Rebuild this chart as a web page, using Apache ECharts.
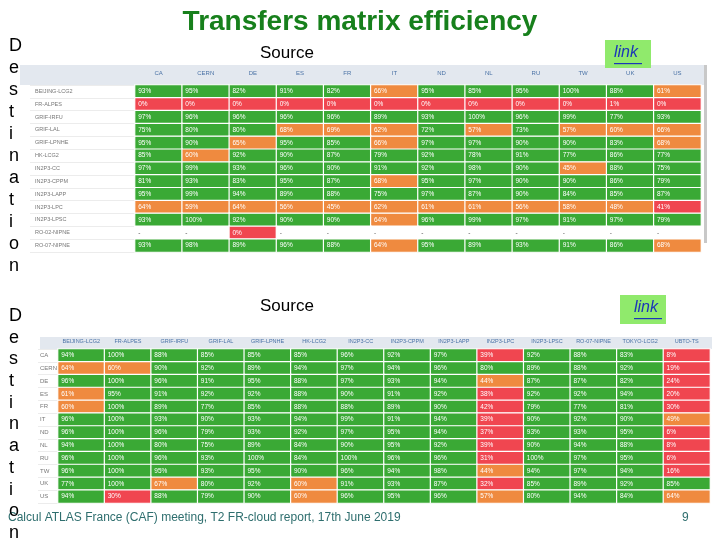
<!DOCTYPE html>
<html><head><meta charset="utf-8">
<script src="https://cdn.jsdelivr.net/npm/echarts@6/dist/echarts.min.js"></script>
<style>html,body{margin:0;padding:0;background:#fff}#c{width:720px;height:540px}</style>
</head><body><div id="c"></div>
<script>
// ---- data ----
const topCols = ['CA','CERN','DE','ES','FR','IT','ND','NL','RU','TW','UK','US'];
const topRows = ['BEIJING-LCG2','FR-ALPES','GRIF-IRFU','GRIF-LAL','GRIF-LPNHE','HK-LCG2','IN2P3-CC','IN2P3-CPPM','IN2P3-LAPP','IN2P3-LPC','IN2P3-LPSC','RO-02-NIPNE','RO-07-NIPNE'];
const topVals = [
  [93,95,82,91,82,66,95,85,95,100,88,61],
  [0,0,0,0,0,0,0,0,0,0,1,0],
  [97,96,96,96,96,89,93,100,96,99,77,93],
  [75,80,80,68,69,62,72,57,73,57,60,66],
  [95,90,65,95,85,66,97,97,90,90,83,68],
  [85,60,92,90,87,79,92,78,91,77,86,77],
  [97,99,93,96,90,91,92,98,90,45,88,75],
  [81,93,83,95,87,68,95,97,90,90,86,79],
  [95,99,94,89,88,75,97,87,90,84,85,87],
  [64,59,64,56,45,62,61,61,56,58,48,41],
  [93,100,92,90,90,64,96,99,97,91,97,79],
  [null,null,0,null,null,null,null,null,null,null,null,null],
  [93,98,89,96,88,64,95,89,93,91,86,68]
];
const botCols = ['BEIJING-LCG2','FR-ALPES','GRIF-IRFU','GRIF-LAL','GRIF-LPNHE','HK-LCG2','IN2P3-CC','IN2P3-CPPM','IN2P3-LAPP','IN2P3-LPC','IN2P3-LPSC','RO-07-NIPNE','TOKYO-LCG2','UBTO-TS'];
const botRows = ['CA','CERN','DE','ES','FR','IT','ND','NL','RU','TW','UK','US'];
const botVals = [
  [94,100,88,85,85,85,96,92,97,39,92,88,83,8],
  [64,60,90,92,89,94,97,94,96,80,89,88,92,19],
  [96,100,96,91,95,88,97,93,94,44,87,87,82,24],
  [61,95,91,92,92,88,90,91,92,38,92,92,94,20],
  [60,100,89,77,85,88,88,89,90,42,79,77,81,30],
  [96,100,93,90,93,94,99,91,94,39,90,92,90,49],
  [96,100,96,79,93,92,97,95,94,37,93,93,95,6],
  [94,100,80,75,89,84,90,95,92,39,90,94,88,8],
  [96,100,96,93,100,84,100,96,96,31,100,97,95,6],
  [96,100,95,93,95,90,96,94,98,44,94,97,94,16],
  [77,100,67,80,92,60,91,93,87,32,85,89,92,85],
  [94,30,88,79,90,60,96,95,96,57,80,94,84,64]
];
const GREEN='#3aa935', ORANGE='#ef8a3f', RED='#f04650';
function colorOf(v){ return v>=70?GREEN:(v>=44?ORANGE:RED); }
function build(vals){
  const out=[];
  vals.forEach((row,r)=>row.forEach((v,c)=>{
    if(v===null){ out.push({value:[c,r,0],dash:true,itemStyle:{color:'rgba(255,255,255,0)'},label:{color:'#555'}}); }
    else out.push({value:[c,r,v],itemStyle:{color:colorOf(v)}});
  }));
  return out;
}
const FONT='Liberation Sans, Arial, sans-serif';
const chart=echarts.init(document.getElementById('c'),null,{renderer:'canvas'});
const dest='Destination'.split('');
const graphics=[
  {type:'rect',shape:{x:20,y:65,width:686,height:20},style:{fill:'#e3e8ef'},z:-1},
  {type:'rect',shape:{x:40,y:337,width:672,height:12},style:{fill:'#e3e8ef'},z:-1},
  {type:'rect',shape:{x:704,y:65,width:3,height:178},style:{fill:'#c8c8c8'},z:-1},
  {type:'text',left:260,top:45,style:{text:'Source',font:'17px '+FONT,fill:'#000'}},
  {type:'text',left:260,top:298,style:{text:'Source',font:'17px '+FONT,fill:'#000'}},
  {type:'rect',shape:{x:605,y:40,width:46,height:28},style:{fill:'#90ea6c'}},
  {type:'text',left:614,top:45,style:{text:'link',font:'italic 16px '+FONT,fill:'#1b35b8'}},
  {type:'rect',shape:{x:614,y:63,width:28,height:1.2},style:{fill:'#1b35b8'}},
  {type:'rect',shape:{x:620,y:295,width:46,height:29},style:{fill:'#90ea6c'}},
  {type:'text',left:634,top:300,style:{text:'link',font:'italic 16px '+FONT,fill:'#1b35b8'}},
  {type:'rect',shape:{x:634,y:318,width:28,height:1.2},style:{fill:'#1b35b8'}},
  {type:'text',left:8,top:512,style:{text:'Calcul ATLAS France (CAF) meeting, T2 FR-cloud report, 17th June 2019',font:'12px '+FONT,fill:'#2e6e6e'}},
  {type:'text',left:682,top:512,style:{text:'9',font:'12px '+FONT,fill:'#2e6e6e'}}
];
dest.forEach((ch,i)=>{
  graphics.push({type:'text',left:9,top:37+i*22,style:{text:ch,font:'18px '+FONT,fill:'#000'}});
  graphics.push({type:'text',left:9,top:307+i*21.7,style:{text:ch,font:'18px '+FONT,fill:'#000'}});
});
const cellLabel={show:true,position:'insideLeft',distance:4,fontSize:6.5,color:'#fff',fontFamily:FONT,
  formatter:p=>p.data.dash?'-':p.value[2]+'%'};
chart.setOption({
  animation:false,
  title:{text:'Transfers matrix efficiency',left:'center',top:3,
    textStyle:{fontFamily:FONT,fontWeight:'bold',fontSize:28,color:'#17801c'}},
  graphic:graphics,
  grid:[
    {left:135,top:85,width:566,height:167},
    {left:58,top:349,width:652,height:154}
  ],
  xAxis:[
    {type:'category',gridIndex:0,data:topCols,position:'top',axisLine:{show:false},axisTick:{show:false},
      axisLabel:{margin:9,fontSize:6,color:'#4a72a6',fontFamily:FONT},splitLine:{show:false}},
    {type:'category',gridIndex:1,data:botCols,position:'top',axisLine:{show:false},axisTick:{show:false},
      axisLabel:{margin:5,fontSize:5.5,color:'#4a72a6',fontFamily:FONT,interval:0},splitLine:{show:false}}
  ],
  yAxis:[
    {type:'category',gridIndex:0,data:topRows,inverse:true,axisLine:{show:false},
      axisTick:{show:true,length:105,lineStyle:{color:'#ececec'}},
      axisLabel:{margin:100,align:'left',fontSize:5.5,color:'#777',fontFamily:FONT}},
    {type:'category',gridIndex:1,data:botRows,inverse:true,axisLine:{show:false},
      axisTick:{show:true,length:20,lineStyle:{color:'#ececec'}},
      axisLabel:{margin:18,align:'left',fontSize:6,color:'#777',fontFamily:FONT}}
  ],
  series:[
    {type:'heatmap',xAxisIndex:0,yAxisIndex:0,data:build(topVals),label:cellLabel,
      itemStyle:{borderColor:'#fff',borderWidth:1.2},emphasis:{disabled:true}},
    {type:'heatmap',xAxisIndex:1,yAxisIndex:1,data:build(botVals),label:cellLabel,
      itemStyle:{borderColor:'#fff',borderWidth:1.2},emphasis:{disabled:true}}
  ]
});
</script></body></html>
